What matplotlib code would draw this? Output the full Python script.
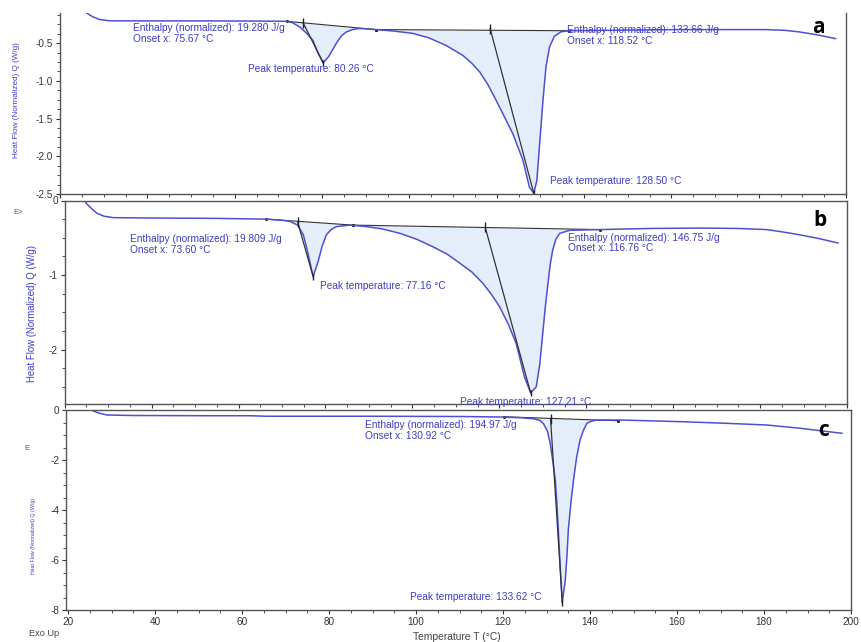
import numpy as np
import matplotlib
matplotlib.use("Agg")
from matplotlib import pyplot as plt
from matplotlib.ticker import MultipleLocator, AutoMinorLocator

plt.rcParams['font.family'] = ['Liberation Sans', 'DejaVu Sans']
plt.rcParams['axes.unicode_minus'] = False

# ---- data ----
# panel a
a_temp = [25.5, 26.1, 27.5, 29.0, 31.4, 40, 55, 65, 71.9, 73.3, 75.0, 76.5, 77.9,
          79.0, 80.26, 81.5, 83.3, 84.5, 85.6, 87.0, 88.6, 92.4, 96.5, 100.8,
          104.5, 108.4, 112.2, 114.2, 116.1, 118.0, 119.9, 121.8, 123.7, 126.0,
          127.5, 128.5, 129.2, 129.9, 130.6, 131.3, 132.1, 133.2, 134.7, 136.6,
          145, 161, 181.6, 186, 189.2, 193.5, 197.6]
a_flow = [-0.02, -0.10, -0.15, -0.185, -0.204, -0.205, -0.205, -0.207, -0.21,
          -0.23, -0.29, -0.37, -0.46, -0.62, -0.76, -0.68, -0.50, -0.40, -0.35,
          -0.32, -0.305, -0.32, -0.34, -0.37, -0.43, -0.53, -0.66, -0.76, -0.88,
          -1.05, -1.26, -1.48, -1.70, -2.05, -2.41, -2.49, -2.32, -1.79, -1.26,
          -0.81, -0.55, -0.41, -0.35, -0.335, -0.33, -0.32, -0.32, -0.33, -0.35,
          -0.39, -0.44]
a_bases = [([71.9, 92.4], [-0.21, -0.32]), ([92.4, 136.6], [-0.32, -0.335])]
a_tangents = [([75.67, 80.26], [-0.23, -0.76]), ([118.52, 128.5], [-0.31, -2.49])]

# panel b
b_temp = [24.5, 25.0, 26.2, 27.4, 29.0, 31.2, 40, 55, 66.4, 70, 71.8, 73.6, 74.9,
          75.7, 76.4, 77.16, 78.3, 79.2, 80.2, 81.3, 82.5, 85.6, 89.4, 93, 97.1,
          101, 104.7, 108, 110.9, 113.7, 116.2, 118.2, 120.1, 122, 123.9, 125.8,
          127.21, 128.5, 129.3, 130, 130.6, 131.2, 131.7, 132.3, 133.0, 133.9,
          136.2, 143.1, 155, 166, 175, 181.4, 185, 189.1, 193.5, 197.9]
b_flow = [0.02, -0.04, -0.11, -0.17, -0.21, -0.23, -0.235, -0.24, -0.25, -0.265,
          -0.28, -0.33, -0.46, -0.64, -0.82, -1.02, -0.82, -0.62, -0.46, -0.39,
          -0.35, -0.33, -0.35, -0.38, -0.44, -0.52, -0.62, -0.72, -0.84, -0.96,
          -1.11, -1.26, -1.43, -1.65, -1.92, -2.37, -2.58, -2.50, -2.2, -1.78,
          -1.42, -1.11, -0.86, -0.66, -0.52, -0.44, -0.40, -0.39, -0.375, -0.37,
          -0.375, -0.39, -0.42, -0.46, -0.51, -0.57]
b_bases = [([66.4, 86.3], [-0.25, -0.33]), ([86.3, 143.1], [-0.33, -0.39])]
b_tangents = [([73.6, 77.16], [-0.29, -1.02]), ([116.76, 127.21], [-0.36, -2.58])]

# panel c
c_temp = [25.0, 25.8, 27, 28.9, 35, 53.4, 61.8, 65.7, 90, 110, 119.3, 124, 127,
          128.5, 129.3, 130.2, 130.8, 131.4, 132, 132.4, 132.7, 133.0, 133.3,
          133.62, 134.0, 134.3, 134.7, 135.0, 135.6, 136.2, 136.9, 137.7, 138.5,
          139.3, 140.3, 141.5, 146.9, 161.5, 171, 180.6, 188.3, 193, 197.9]
c_flow = [0.05, -0.04, -0.12, -0.2, -0.22, -0.23, -0.23, -0.25, -0.25, -0.26,
          -0.28, -0.31, -0.35, -0.42, -0.55, -0.85, -1.3, -2.0, -2.8, -3.8, -4.8,
          -5.8, -6.8, -7.7, -7.2, -6.8, -5.8, -4.8, -3.7, -2.8, -1.9, -1.2, -0.8,
          -0.53, -0.45, -0.4, -0.4, -0.47, -0.53, -0.6, -0.73, -0.83, -0.93]
c_bases = [([120.1, 146.5], [-0.27, -0.43])]
c_tangents = [([130.92, 133.62], [-0.36, -7.7])]

a_texts = [(36.7, -0.23, "Enthalpy (normalized): 19.280 J/g\nOnset x: 75.67 °C", 'top'),
           (63.0, -0.84, "Peak temperature: 80.26 °C", 'center'),
           (136.2, -0.26, "Enthalpy (normalized): 133.66 J/g\nOnset x: 118.52 °C", 'top'),
           (132.1, -2.33, "Peak temperature: 128.50 °C", 'center')]
b_texts = [(35.0, -0.45, "Enthalpy (normalized): 19.809 J/g\nOnset x: 73.60 °C", 'top'),
           (78.7, -1.15, "Peak temperature: 77.16 °C", 'center'),
           (135.7, -0.43, "Enthalpy (normalized): 146.75 J/g\nOnset x: 116.76 °C", 'top'),
           (110.9, -2.70, "Peak temperature: 127.21 °C", 'center')]
c_texts = [(88.3, -0.42, "Enthalpy (normalized): 194.97 J/g\nOnset x: 130.92 °C", 'top'),
           (98.6, -7.47, "Peak temperature: 133.62 °C", 'center')]

curve_col = '#4f4fd2'
text_col = '#3c3cc8'
line_col = '#333333'
fill_col = '#e4eefa'

fig = plt.figure(figsize=(8.61, 6.42), dpi=100)

panels = [
    dict(pos=[60 / 861, 1 - 194 / 642, 786 / 861, 181 / 642], xlim=(20, 200),
         ylim=(-2.5, -0.1), major=0.5, T=a_temp, Q=a_flow, bases=a_bases,
         tang=a_tangents, texts=a_texts, label='a', labely=0.92, top=False),
    dict(pos=[64.7 / 861, 1 - 404 / 642, 782.3 / 861, 203.5 / 642], xlim=(20, 200),
         ylim=(-2.73, 0), major=1, T=b_temp, Q=b_flow, bases=b_bases,
         tang=b_tangents, texts=b_texts, label='b', labely=0.90, top=True),
    dict(pos=[66 / 861, 1 - 610 / 642, 785 / 861, 200 / 642], xlim=(19.5, 200),
         ylim=(-8, 0), major=2, T=c_temp, Q=c_flow, bases=c_bases,
         tang=c_tangents, texts=c_texts, label='c', labely=0.90, top=True),
]

for i, p in enumerate(panels):
    ax = fig.add_axes(p['pos'])
    T = np.array(p['T'])
    Q = np.array(p['Q'])

    # shaded integration areas
    for bt, bq in p['bases']:
        m = (T >= bt[0]) & (T <= bt[1])
        tt = np.concatenate([[bt[0]], T[m], [bt[1]]])
        qq = np.concatenate([[np.interp(bt[0], T, Q)], Q[m], [np.interp(bt[1], T, Q)]])
        ax.fill_between(tt, qq, np.interp(tt, bt, bq), color=fill_col, lw=0)
        ax.plot(bt, bq, color=line_col, lw=0.8)
        ax.plot(bt, bq, ls='none', marker='.', ms=2.5, color='#222222')

    ax.plot(T, Q, color=curve_col, lw=1.1)

    for tt, qq in p['tang']:
        ax.plot(tt, qq, color=line_col, lw=0.9)
        ax.plot(tt[0], qq[0], marker='|', ms=7, mew=1.0, color='#222222')
        ax.plot(tt[1], qq[1], marker='|', ms=4, mew=1.0, color='#222222')

    for x, y, s, va in p['texts']:
        ax.text(x, y, s, color=text_col, fontsize=7.3, va=va, ha='left',
                linespacing=1.1, clip_on=False)

    ax.text(0.965, p['labely'], p['label'], transform=ax.transAxes,
            fontsize=15, fontweight='bold', family=['Open Sans', 'DejaVu Sans'],
            ha='center', va='center', color='black')

    ax.set_xlim(p['xlim'])
    ax.set_ylim(p['ylim'])
    ax.xaxis.set_major_locator(MultipleLocator(20))
    ax.xaxis.set_minor_locator(AutoMinorLocator(4))
    ax.yaxis.set_major_locator(MultipleLocator(p['major']))
    ax.yaxis.set_minor_locator(AutoMinorLocator(4))
    ax.tick_params(which='major', length=3, width=0.8, labelsize=7.2,
                   colors='#333333', pad=2)
    ax.tick_params(which='minor', length=2, width=0.6, colors='#333333')
    if i < 2:
        ax.tick_params(axis='x', labelbottom=False)
    for sp in ax.spines.values():
        sp.set_color('#555555')
        sp.set_linewidth(1.0)
    ax.spines['top'].set_visible(p['top'])

# y labels and odd bits around the panels
fig.text(17 / 861, 1 - 100 / 642, "Heat Flow (Normalized) Q (W/g)", rotation=90,
         color=text_col, fontsize=5.9, ha='center', va='center')
fig.text(32 / 861, 1 - 314 / 642, "Heat Flow (Normalized) Q (W/g)", rotation=90,
         color=text_col, fontsize=6.9, ha='center', va='center')
fig.text(33 / 861, 1 - 536 / 642, "Heat Flow (Normalized) Q (W/g)", rotation=90,
         color=text_col, fontsize=3.8, ha='center', va='center')
fig.text(13 / 861, 1 - 213 / 642, "E>", color='#555555', fontsize=5.5, va='center')
fig.text(24 / 861, 1 - 448 / 642, "E", color='#555555', fontsize=5.5, va='center')
fig.text(29 / 861, 1 - 633 / 642, "Exo Up", color='#444444', fontsize=6.6, va='center')
fig.text(457 / 861, 1 - 637 / 642, "Temperature T (°C)", color='#444444', fontsize=7.4,
         ha='center', va='center')

fig.savefig("out.png", dpi=100)
